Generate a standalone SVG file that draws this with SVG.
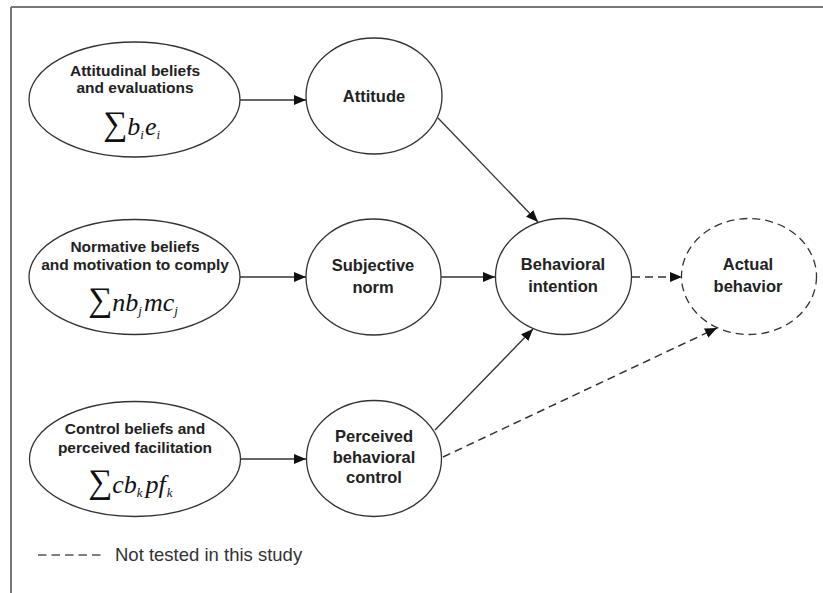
<svg xmlns="http://www.w3.org/2000/svg" width="823" height="593" viewBox="0 0 823 593">
<style>
.node{fill:#fff;stroke:#333;stroke-width:1.3}
.dnode{fill:#fff;stroke:#333;stroke-width:1.3;stroke-dasharray:8 5}
.lbl{font-family:"Liberation Sans",Arial,sans-serif;font-weight:bold;font-size:16.5px;fill:#222;text-anchor:middle}
.lbl2{font-family:"Liberation Sans",Arial,sans-serif;font-weight:bold;font-size:15.5px;fill:#222;text-anchor:middle}
.math{font-family:"Liberation Serif","Times New Roman",serif;font-style:italic;font-size:26px;fill:#111}
.sig{font-family:"Liberation Serif","DejaVu Serif",serif;font-size:34px;fill:#111}
.sub{font-size:13px}
.edge{stroke:#333;stroke-width:1.3;fill:none}
.dedge{stroke:#333;stroke-width:1.5;fill:none;stroke-dasharray:8 5}
</style>
<defs>
<marker id="ah" viewBox="0 0 12 10" refX="12" refY="5" markerWidth="12" markerHeight="10" markerUnits="userSpaceOnUse" orient="auto">
<path d="M0,0 L12,5 L0,10 z" fill="#111"/>
</marker>
</defs>
<rect width="823" height="593" fill="#fff"/>
<g id="frame" stroke="#777" stroke-width="2" fill="none">
<line x1="11" y1="7" x2="823" y2="7"/>
<line x1="11" y1="7" x2="11" y2="593"/>
</g>

<g id="connectors">
<line class="edge" x1="240" y1="100" x2="306" y2="100" marker-end="url(#ah)"/>
<line class="edge" x1="240" y1="277" x2="306" y2="277" marker-end="url(#ah)"/>
<line class="edge" x1="241" y1="459" x2="306" y2="459" marker-end="url(#ah)"/>
<line class="edge" x1="441" y1="277" x2="495" y2="277" marker-end="url(#ah)"/>
<line class="edge" x1="438" y1="118" x2="538" y2="222" marker-end="url(#ah)"/>
<line class="edge" x1="435" y1="430" x2="533" y2="329" marker-end="url(#ah)"/>
<line class="dedge" x1="632" y1="277" x2="682" y2="277" marker-end="url(#ah)"/>
<line class="dedge" x1="443" y1="457" x2="717" y2="328" marker-end="url(#ah)"/>
</g>

<g id="attitudinal">
<ellipse class="node" cx="134.5" cy="99.5" rx="105.5" ry="57.5"/>
<text class="lbl2" x="135" y="76">Attitudinal beliefs</text>
<text class="lbl2" x="135" y="93">and evaluations</text>
<text x="103" y="135"><tspan class="sig">∑</tspan><tspan class="math">b<tspan class="sub" dy="4">i</tspan><tspan dy="-4" dx="1">e</tspan><tspan class="sub" dy="4">i</tspan></tspan></text>
</g>

<g id="normative">
<ellipse class="node" cx="134.5" cy="277" rx="105.5" ry="57.5"/>
<text class="lbl2" x="135" y="252">Normative beliefs</text>
<text class="lbl2" x="135" y="270">and motivation to comply</text>
<text x="88" y="311"><tspan class="sig">∑</tspan><tspan class="math">nb<tspan class="sub" dy="4">j</tspan><tspan dy="-4" dx="2">mc</tspan><tspan class="sub" dy="4">j</tspan></tspan></text>
</g>

<g id="control">
<ellipse class="node" cx="135" cy="459" rx="105.5" ry="57.5"/>
<text class="lbl2" x="135" y="434">Control beliefs and</text>
<text class="lbl2" x="135" y="453">perceived facilitation</text>
<text x="88" y="493"><tspan class="sig">∑</tspan><tspan class="math">cb<tspan class="sub" dy="4">k</tspan><tspan dy="-4" dx="3">pf</tspan><tspan class="sub" dy="4" dx="1">k</tspan></tspan></text>
</g>

<g id="attitude">
<ellipse class="node" cx="374" cy="96" rx="68" ry="58"/>
<text class="lbl" x="374" y="102">Attitude</text>
</g>

<g id="subjective">
<ellipse class="node" cx="373.5" cy="277" rx="67.5" ry="58"/>
<text class="lbl" x="373" y="271">Subjective</text>
<text class="lbl" x="373" y="293">norm</text>
</g>

<g id="perceived">
<ellipse class="node" cx="374" cy="458.5" rx="67.5" ry="58"/>
<text class="lbl" x="374" y="442">Perceived</text>
<text class="lbl" x="374" y="463">behavioral</text>
<text class="lbl" x="374" y="483">control</text>
</g>

<g id="intention">
<ellipse class="node" cx="563.5" cy="276.5" rx="68" ry="58"/>
<text class="lbl" x="563" y="270">Behavioral</text>
<text class="lbl" x="563" y="292">intention</text>
</g>

<g id="actual">
<ellipse class="dnode" cx="749" cy="276.5" rx="67.5" ry="58"/>
<text class="lbl" x="748" y="270">Actual</text>
<text class="lbl" x="748" y="292">behavior</text>
</g>

<g id="legend">
<line x1="38" y1="555" x2="104" y2="555" stroke="#555" stroke-width="1.5" stroke-dasharray="8.5 5"/>
<text x="115" y="561" font-family="Liberation Sans,Arial,sans-serif" font-size="18.5" fill="#333">Not tested in this study</text>
</g>
</svg>
